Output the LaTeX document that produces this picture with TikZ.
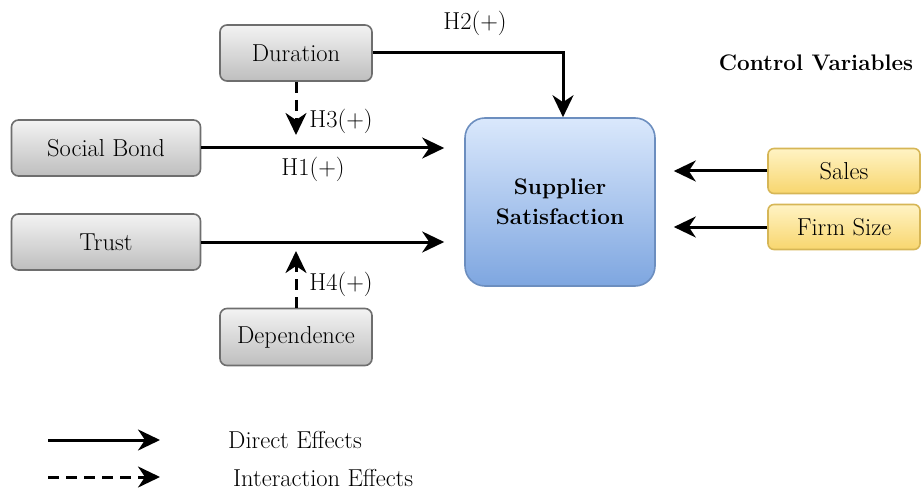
\documentclass[tikz,border=0pt]{standalone}
\usepackage{fontspec}
\usetikzlibrary{arrows.meta}
\definecolor{gtop}{HTML}{F3F3F3}
\definecolor{gbot}{HTML}{BEBEBE}
\definecolor{gline}{HTML}{6E6E6E}
\definecolor{btop}{HTML}{DAE8FC}
\definecolor{bbot}{HTML}{7EA6E0}
\definecolor{bline}{HTML}{6C8EBF}
\definecolor{ytop}{HTML}{FFF3C4}
\definecolor{ybot}{HTML}{F8D66E}
\definecolor{yline}{HTML}{D6B656}
\begin{document}
\begin{tikzpicture}[x=1pt,y=-1pt,
  font=\fontsize{24.5}{29}\selectfont,
  gbox/.style={draw=gline, line width=1.6pt, rounded corners=7pt, top color=gtop, bottom color=gbot, inner sep=0pt},
  ybox/.style={draw=yline, line width=1.6pt, rounded corners=6pt, top color=ytop, bottom color=ybot, inner sep=0pt, minimum width=152pt, minimum height=45pt},
  arr/.style={line width=3pt, -{Stealth[length=22pt,width=21pt,inset=7pt]}},
  darr/.style={arr, dash pattern=on 11pt off 7pt},
  lbl/.style={inner sep=0pt}]
\useasboundingbox (0,0) rectangle (923,497);

\node[gbox, minimum width=152pt, minimum height=56pt] (dur) at (296,53) {Duration};
\node[gbox, minimum width=189pt, minimum height=56pt] (sb) at (106,148) {Social Bond};
\node[gbox, minimum width=189pt, minimum height=56pt] (tr) at (106,242) {Trust};
\node[gbox, minimum width=152pt, minimum height=57pt] (dep) at (296,337) {Dependence};
\node[draw=bline, line width=1.6pt, rounded corners=20pt, top color=btop, bottom color=bbot,
      minimum width=190pt, minimum height=168pt, align=center, font=\fontsize{22.5}{30}\selectfont\bfseries] (ss) at (560,202) {Supplier\\Satisfaction};
\node[ybox] (sal) at (844,171) {Sales};
\node[ybox] (fs) at (844,227) {Firm Size};
\node[lbl, font=\fontsize{22.5}{27}\selectfont\bfseries] (cv) at (816,63) {Control Variables};

\draw[arr] (dur.east) -| ([xshift=3pt]ss.north);
\draw[arr] (sb.east) -- ([xshift=-20pt]sb.east -| ss.west);
\draw[arr] (tr.east) -- ([xshift=-20pt]tr.east -| ss.west);
\draw[darr] (dur.south) -- ([yshift=13pt]dur.south |- sb.east);
\draw[darr] (dep.north) -- ([yshift=-9pt]dep.north |- tr.east);
\draw[arr] (sal.west) -- ([xshift=18pt]sal.west -| ss.east);
\draw[arr] (fs.west) -- ([xshift=18pt]fs.west -| ss.east);

\node[lbl] (h2) at (475,23) {H2(+)};
\node[lbl] (h3) at (341,121) {H3(+)};
\node[lbl] (h1) at (313,169) {H1(+)};
\node[lbl] (h4) at (341,284) {H4(+)};

\coordinate (la) at (48,440);
\coordinate (lb) at (160,440);
\coordinate (lc) at (48,477);
\coordinate (ld) at (160,477);
\draw[arr] (la) -- (lb);
\draw[darr] (lc) -- (ld);
\node[lbl, anchor=west] (t1) at (228,440) {Direct Effects};
\node[lbl, anchor=west] (t2) at (233,478) {Interaction Effects};
\end{tikzpicture}
\end{document}
